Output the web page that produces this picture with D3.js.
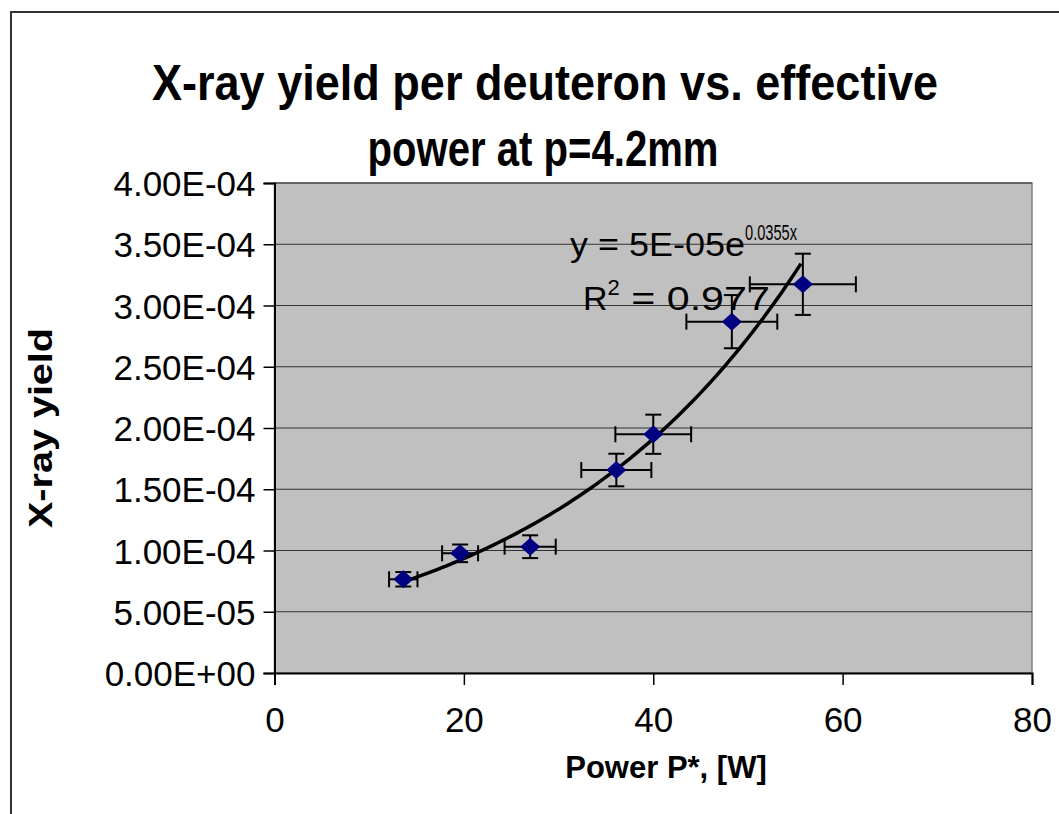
<!DOCTYPE html>
<html>
<head>
<meta charset="utf-8">
<script src="https://cdn.jsdelivr.net/npm/d3@7/dist/d3.min.js"></script>
<style>
  body { margin: 0; background: #fff; }
  text { font-family: "Liberation Sans", Arial, sans-serif; }
</style>
</head>
<body>
<svg id="chart"></svg>
<script>
// measured data: effective power (W) and x-ray yield per deuteron
const power = [13.6, 19.6, 27.0, 36.1, 40.0, 48.3, 55.8];
const yieldVal = [7.65e-5, 9.77e-5, 1.031e-4, 1.657e-4, 1.949e-4, 2.868e-4, 3.173e-4];
const powerErr = [1.5, 1.9, 2.7, 3.7, 4.0, 4.8, 5.6];
const yieldErr = [0.59e-5, 0.72e-5, 0.93e-5, 1.33e-5, 1.6e-5, 2.17e-5, 2.5e-5];

const xTicks = [0, 20, 40, 60, 80];
const yTicks = [0, 5e-5, 1e-4, 1.5e-4, 2e-4, 2.5e-4, 3e-4, 3.5e-4, 4e-4];
const yTickLabels = ["0.00E+00", "5.00E-05", "1.00E-04", "1.50E-04", "2.00E-04",
                     "2.50E-04", "3.00E-04", "3.50E-04", "4.00E-04"];

const width = 1059, height = 814;
const plot = { left: 274.5, right: 1032, top: 183, bottom: 673 };

const svg = d3.select("#chart")
    .attr("width", width)
    .attr("height", height);

// outer chart border (runs off the right/bottom edge)
svg.append("rect")
    .attr("x", 11).attr("y", 12)
    .attr("width", 1200).attr("height", 1000)
    .attr("fill", "#fff")
    .attr("stroke", "#333").attr("stroke-width", 2);

const x = d3.scaleLinear().domain([0, 80]).range([plot.left, plot.right]);
const y = d3.scaleLinear().domain([0, 4e-4]).range([plot.bottom, plot.top]);

// plot area
svg.append("rect")
    .attr("x", plot.left).attr("y", plot.top)
    .attr("width", plot.right - plot.left).attr("height", plot.bottom - plot.top)
    .attr("fill", "#c0c0c0")
    .attr("stroke", "#808080").attr("stroke-width", 1.5);

// gridlines
svg.append("g")
    .selectAll("line")
    .data(yTicks.slice(1))
    .enter()
    .append("line")
    .attr("x1", plot.left).attr("x2", plot.right)
    .attr("y1", d => y(d)).attr("y2", d => y(d))
    .attr("stroke", "#333").attr("stroke-width", 1);

// axes
const xAxis = svg.append("g")
    .attr("transform", "translate(0," + plot.bottom + ")")
    .call(d3.axisBottom(x).tickValues(xTicks).tickSize(12).tickPadding(22));
const yAxis = svg.append("g")
    .attr("transform", "translate(" + plot.left + ",0)")
    .call(d3.axisLeft(y).tickValues(yTicks).tickSize(11).tickPadding(8)
        .tickFormat((d, i) => yTickLabels[i]));

[xAxis, yAxis].forEach(function(g) {
    g.select(".domain").attr("stroke", "#000").attr("stroke-width", 2);
    g.selectAll(".tick line").attr("stroke", "#000").attr("stroke-width", 1.5);
    g.selectAll(".tick text")
        .attr("fill", "#000")
        .style("font-family", '"Liberation Sans", Arial, sans-serif')
        .style("font-size", "35px");
});
yAxis.selectAll(".tick text").attr("dy", "0.36em");

// exponential trendline, least squares on ln(y) like the spreadsheet does
const lnY = yieldVal.map(v => Math.log(v));
const mx = d3.mean(power), my = d3.mean(lnY);
const b = d3.sum(power, (p, i) => (p - mx) * (lnY[i] - my)) / d3.sum(power, p => (p - mx) * (p - mx));
const a = Math.exp(my - b * mx);
const trendX = d3.range(d3.min(power), d3.max(power) + 0.01, 0.5);

svg.append("path")
    .datum(trendX)
    .attr("fill", "none")
    .attr("stroke", "#000")
    .attr("stroke-width", 3.5)
    .attr("d", d3.line().x(d => x(d)).y(d => y(a * Math.exp(b * d))));

// error bars
const err = svg.append("g").attr("stroke", "#000").attr("stroke-width", 2);
const cap = 8;
power.forEach(function(p, i) {
    const cx = x(p), cy = y(yieldVal[i]);
    const x0 = x(p - powerErr[i]), x1 = x(p + powerErr[i]);
    const y0 = y(yieldVal[i] - yieldErr[i]), y1 = y(yieldVal[i] + yieldErr[i]);
    err.append("line").attr("x1", x0).attr("x2", x1).attr("y1", cy).attr("y2", cy);
    err.append("line").attr("x1", x0).attr("x2", x0).attr("y1", cy - cap).attr("y2", cy + cap);
    err.append("line").attr("x1", x1).attr("x2", x1).attr("y1", cy - cap).attr("y2", cy + cap);
    err.append("line").attr("x1", cx).attr("x2", cx).attr("y1", y0).attr("y2", y1);
    err.append("line").attr("x1", cx - cap).attr("x2", cx + cap).attr("y1", y0).attr("y2", y0);
    err.append("line").attr("x1", cx - cap).attr("x2", cx + cap).attr("y1", y1).attr("y2", y1);
});

// diamond markers
svg.append("g")
    .selectAll("path")
    .data(power)
    .enter()
    .append("path")
    .attr("transform", (d, i) => "translate(" + x(d) + "," + y(yieldVal[i]) + ")")
    .attr("d", "M0,-9L10,0L0,9L-10,0Z")
    .attr("fill", "#000080");

// trendline labels
const eq = svg.append("text")
    .attr("x", 570).attr("y", 256)
    .style("font-size", "34px");
eq.append("tspan").attr("textLength", 175).attr("lengthAdjust", "spacingAndGlyphs").text("y = 5E-05e");
eq.append("tspan").attr("dy", -16).style("font-size", "22px")
    .attr("textLength", 52).attr("lengthAdjust", "spacingAndGlyphs").text("0.0355x");

const r2 = svg.append("text")
    .attr("x", 583).attr("y", 310)
    .style("font-size", "34px");
r2.append("tspan").text("R");
r2.append("tspan").attr("dy", -15).style("font-size", "22px").text("2");
r2.append("tspan").attr("dy", 15).attr("textLength", 150).attr("lengthAdjust", "spacingAndGlyphs").text(" = 0.977");

// title
svg.append("text")
    .attr("x", 545).attr("y", 100)
    .attr("text-anchor", "middle")
    .style("font-size", "50px").style("font-weight", "bold")
    .attr("textLength", 786).attr("lengthAdjust", "spacingAndGlyphs")
    .text("X-ray yield per deuteron vs. effective");
svg.append("text")
    .attr("x", 543).attr("y", 166)
    .attr("text-anchor", "middle")
    .style("font-size", "50px").style("font-weight", "bold")
    .attr("textLength", 351).attr("lengthAdjust", "spacingAndGlyphs")
    .text("power at p=4.2mm");

// axis titles
svg.append("text")
    .attr("x", 666).attr("y", 778)
    .attr("text-anchor", "middle")
    .style("font-size", "31px").style("font-weight", "bold")
    .text("Power P*, [W]");
svg.append("text")
    .attr("transform", "translate(52,428) rotate(-90)")
    .attr("text-anchor", "middle")
    .style("font-size", "33px").style("font-weight", "bold")
    .attr("textLength", 200).attr("lengthAdjust", "spacingAndGlyphs")
    .text("X-ray yield");
</script>
</body>
</html>
